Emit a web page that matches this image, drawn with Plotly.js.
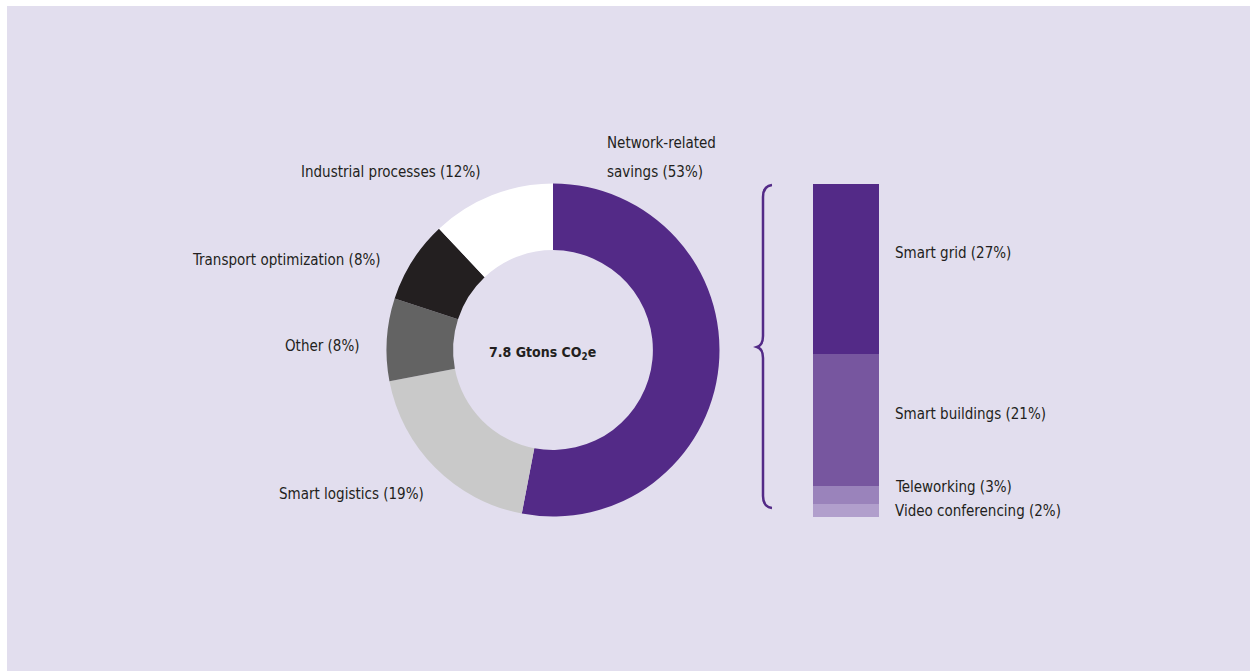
<!DOCTYPE html>
<html>
<head>
<meta charset="utf-8">
<script src="https://cdn.plot.ly/plotly-3.0.1.min.js"></script>
<style>html,body{margin:0;padding:0;background:#fff;}#chart{width:1250px;height:671px;}</style>
</head>
<body>
<div id="chart"></div>
<script>
// ---- Data ----
var pieLabels = ["Network-related savings", "Smart logistics", "Other", "Transport optimization", "Industrial processes"];
var pieValues = [53, 19, 8, 8, 12];
var pieColors = ["#532a87", "#c9c9c9", "#636363", "#231f20", "#ffffff"];

var barLabels = ["Video conferencing", "Teleworking", "Smart buildings", "Smart grid"];
var barValues = [2, 3, 21, 27];
var barColors = ["#b19fcc", "#9a83bb", "#77569f", "#532a87"];

var totalText = "7.8 Gtons CO<sub>2</sub>e";

// ---- Layout helpers ----
var W = 1250, H = 671;
function px(x) { return x / W; }
function py(y) { return 1 - y / H; }
var FONT = "'DejaVu Sans Condensed', 'Liberation Sans Narrow', 'Arial Narrow', sans-serif";
var TXT = "#231f20";
var FS = 15;

var traces = [];
traces.push({
  type: "pie",
  labels: pieLabels,
  values: pieValues,
  marker: { colors: pieColors, line: { width: 0 } },
  hole: 0.6,
  sort: false,
  direction: "clockwise",
  rotation: 0,
  textinfo: "none",
  hoverinfo: "none",
  showlegend: false,
  domain: { x: [px(553 - 166.5), px(553 + 166.5)], y: [py(350 + 166.5), py(350 - 166.5)] }
});

var base = 0;
for (var i = 0; i < barValues.length; i++) {
  traces.push({
    type: "bar",
    x: [0],
    y: [barValues[i]],
    base: [base],
    width: [1],
    marker: { color: barColors[i], line: { width: 0 } },
    name: barLabels[i],
    hoverinfo: "none",
    showlegend: false,
    xaxis: "x",
    yaxis: "y"
  });
  base += barValues[i];
}
var barTotal = base;

function ann(text, x, y, xanchor, extra) {
  var a = {
    text: text, xref: "paper", yref: "paper", x: px(x), y: py(y),
    xanchor: xanchor, yanchor: "middle", showarrow: false,
    font: { family: FONT, size: FS, color: TXT }, align: xanchor === "right" ? "right" : "left"
  };
  if (extra) for (var k in extra) a[k] = extra[k];
  return a;
}

var annotations = [
  ann("Network-related", 605, 143, "left"),
  ann("savings (53%)", 605, 172, "left"),
  ann("Industrial processes (12%)", 483, 172, "right"),
  ann("Transport optimization (8%)", 383, 260, "right"),
  ann("Other (8%)", 362, 346, "right"),
  ann("Smart logistics (19%)", 426, 494, "right"),
  ann("<b>" + totalText + "</b>", 542, 353, "center", { font: { family: FONT, size: 14, color: TXT } }),
  ann("Smart grid (27%)", 893, 253, "left"),
  ann("Smart buildings (21%)", 893, 414, "left"),
  ann("Teleworking (3%)", 893, 487, "left"),
  ann("Video conferencing (2%)", 893, 511, "left")
];

function P(x, y) { return px(x).toFixed(5) + "," + py(y).toFixed(5); }
var bracePath = "M" + P(772, 185) +
  " Q" + P(763, 186) + " " + P(763, 197) +
  " L" + P(763, 336) +
  " Q" + P(763, 345) + " " + P(757, 347) +
  " Q" + P(763, 349) + " " + P(763, 358) +
  " L" + P(763, 496) +
  " Q" + P(763, 507) + " " + P(772, 508);

var layout = {
  width: W, height: H,
  margin: { l: 0, r: 0, t: 0, b: 0 },
  paper_bgcolor: "#ffffff",
  plot_bgcolor: "rgba(0,0,0,0)",
  barmode: "overlay",
  bargap: 0,
  showlegend: false,
  xaxis: { domain: [px(813), px(879)], range: [-0.5, 0.5], visible: false, fixedrange: true },
  yaxis: { domain: [py(517), py(184)], range: [0, barTotal], visible: false, fixedrange: true },
  shapes: [
    { type: "rect", xref: "paper", yref: "paper", x0: px(7), x1: 1, y0: 0, y1: py(6),
      fillcolor: "#e2deee", line: { width: 0 }, layer: "below" },
    { type: "path", xref: "paper", yref: "paper", path: bracePath,
      line: { color: "#532a87", width: 2.5 }, fillcolor: "rgba(0,0,0,0)" }
  ],
  annotations: annotations
};

Plotly.newPlot("chart", traces, layout, { displayModeBar: false, staticPlot: true });
</script>
</body>
</html>
